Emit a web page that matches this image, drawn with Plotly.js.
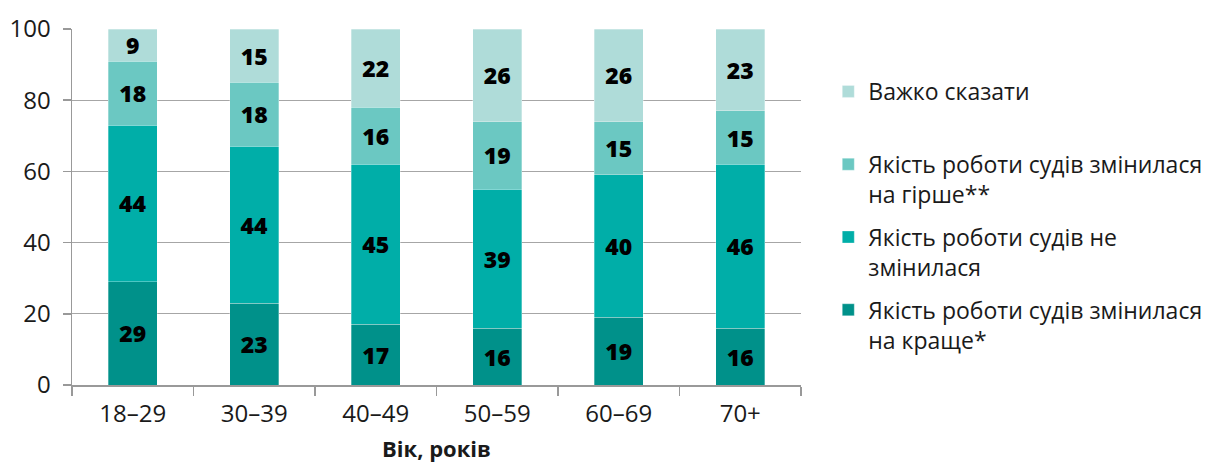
<!DOCTYPE html>
<html><head><meta charset="utf-8">
<script src="https://cdn.plot.ly/plotly-3.0.1.min.js"></script>
<style>html,body{margin:0;padding:0;background:#fff}#chart{width:1218px;height:463px}</style>
</head><body><div id="chart"></div>
<script>
const categories = ["18–29","30–39","40–49","50–59","60–69","70+"];
const better = [29,23,17,16,19,16];
const same = [44,44,45,39,40,46];
const worse = [18,18,16,19,15,15];
const hard = [9,15,22,26,26,23];
const names = [
  "Якість роботи судів змінилася<br>на краще*",
  "Якість роботи судів не<br>змінилася",
  "Якість роботи судів змінилася<br>на гірше**",
  "Важко сказати<br>\u00a0"
];
const colors = ["#00918A","#00AEA8","#6BC8C2","#AFDCD9"];
const series = [better, same, worse, hard];
const FONT = "'Open Sans', sans-serif";
const traces = series.map((vals,i)=>({
  type:'bar', x:categories, y:vals, name:names[i], legendgroup:'g'+i, legendrank:10-i,
  marker:{color:colors[i], line:{color:'rgba(255,255,255,0.5)', width:0.6}},
  text:vals.map(String), textposition:'inside', insidetextanchor:'middle', textangle:0,
  textfont:{family:FONT, size:23, color:'#000', weight:800},
  constraintext:'none', hoverinfo:'skip'
}));
const layout = {
  width:1218, height:463, barmode:'stack', bargap:0.6,
  margin:{l:72, r:416, t:29, b:78},
  paper_bgcolor:'#fff', plot_bgcolor:'#fff',
  font:{family:FONT, color:'#1a1a1a'},
  xaxis:{showline:true, linecolor:'#999', linewidth:1.5, ticks:'outside', tickson:'boundaries',
    ticklen:9, tickcolor:'#999', tickwidth:1.5, ticklabelstandoff:7,
    tickfont:{size:24, family:FONT, color:'#1a1a1a'},
    title:{text:'<b>Вік, років</b>', font:{size:22, family:FONT, color:'#1a1a1a'}, standoff:14}},
  yaxis:{range:[0,100], dtick:20, showgrid:true, gridcolor:'#a6a6a6', gridwidth:1.2,
    showline:true, linecolor:'#999', linewidth:1.5, ticks:'outside', ticklen:8, tickcolor:'#999', tickwidth:1.5,
    ticklabelstandoff:7, tickfont:{size:24, family:FONT, color:'#1a1a1a'}, zeroline:false},
  legend:{x:1.036, xanchor:'left', y:0.885, yanchor:'top', traceorder:'grouped',
    tracegroupgap:10, valign:'top', font:{size:23, family:FONT, color:'#1a1a1a'},
    itemwidth:30, bgcolor:'rgba(0,0,0,0)'},
  showlegend:true
};
Plotly.newPlot('chart', traces, layout, {displayModeBar:false, staticPlot:true});
</script></body></html>
